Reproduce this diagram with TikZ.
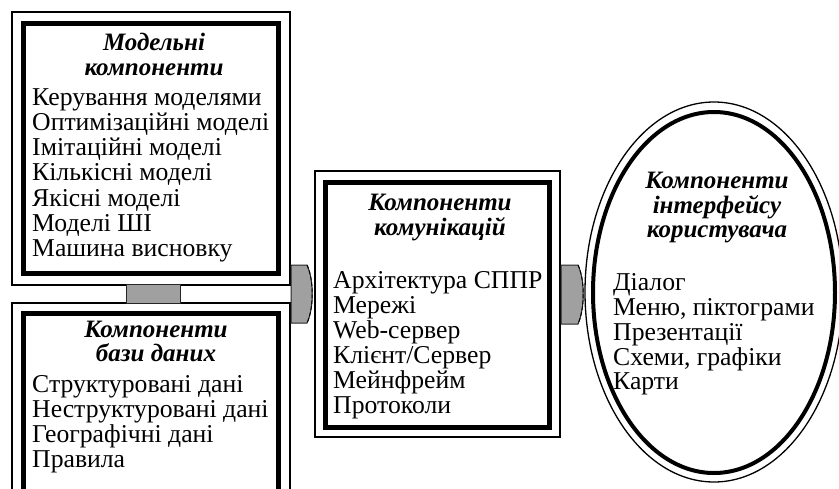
\documentclass[tikz,border=0pt]{standalone}
\usepackage{fontspec}
\setmainfont{Liberation Serif}
\usetikzlibrary{shapes.geometric}
\definecolor{linkgray}{RGB}{160,160,160}
\begin{document}
\begin{tikzpicture}[x=1pt,y=-1pt,
  outerbox/.style={draw, line width=1.3pt, inner sep=0pt, outer sep=0pt},
  innerbox/.style={draw, line width=5pt, inner sep=0pt, outer sep=0pt},
  bodytxt/.style={anchor=base west, inner sep=0pt, font=\fontsize{25.7}{25.7}\selectfont},
  titletxt/.style={anchor=base, inner sep=0pt, font=\fontsize{25}{25}\selectfont\bfseries\itshape},
  link/.style={fill=linkgray, draw=black!85, line width=1pt},
  linkedge/.style={draw=black, line width=1pt, dash pattern=on 4pt off 2pt}]
\useasboundingbox (0,0) rectangle (839,488);
\clip (0,0) rectangle (839,488);
% upper box: model components
\node[outerbox, minimum width=278pt, minimum height=273pt] (mo) at (151,148.5) {};
\node[innerbox, minimum width=255pt, minimum height=250pt] (mi) at (150.5,148) {};
% lower box: database components
\node[outerbox, minimum width=278pt, minimum height=220pt] (do) at (151,413) {};
\node[innerbox, minimum width=255pt, minimum height=190pt] (di) at (150.5,408) {};
% middle box: communication components
\node[outerbox, minimum width=245pt, minimum height=266pt] (co) at (437.5,304) {};
\node[innerbox, minimum width=224pt, minimum height=245pt] (ci) at (437,304.5) {};
% ellipse: user interface components
\node[draw, ellipse, line width=1.3pt, inner sep=0pt, minimum width=258pt, minimum height=380pt] (eo) at (714,292) {};
\node[draw, ellipse, line width=4pt, inner sep=0pt, minimum width=242pt, minimum height=361pt] (ei) at (714,292.5) {};
% link between upper and lower boxes
\path[link] (126,284) rectangle (180,303);
% link: left column -> middle box
\path[link] (291,265) -- (307,265) .. controls (314,280) and (314,308) .. (307,323) -- (291,323) -- cycle;
\path[linkedge] (307,265) .. controls (314,280) and (314,308) .. (307,323);
% link: middle box -> ellipse
\path[link] (561,265) -- (578,265) .. controls (585,280) and (585,308) .. (578,324) -- (561,324) -- cycle;
\path[linkedge] (578,265) .. controls (585,280) and (585,308) .. (578,324);
% texts upper
\node[titletxt] (t1a) at (154,50) {Модельні};
\node[titletxt] (t1b) at (154,75) {компоненти};
\node[bodytxt] (m1) at (32,105) {Керування моделями};
\node[bodytxt] (m2) at (32,130.3) {Оптимізаційні моделі};
\node[bodytxt] (m3) at (32,155.6) {Імітаційні моделі};
\node[bodytxt] (m4) at (32,180.9) {Кількісні моделі};
\node[bodytxt] (m5) at (32,206.2) {Якісні моделі};
\node[bodytxt] (m6) at (32,231.5) {Моделі ШІ};
\node[bodytxt] (m7) at (32,256.8) {Машина висновку};
% texts lower
\node[titletxt] (t2a) at (156,337) {Компоненти};
\node[titletxt] (t2b) at (156,361) {бази даних};
\node[bodytxt] (d1) at (32,392) {Структуровані дані};
\node[bodytxt] (d2) at (32,417) {Неструктуровані дані};
\node[bodytxt] (d3) at (32,442) {Географічні дані};
\node[bodytxt] (d4) at (32,467) {Правила};
% texts middle
\node[titletxt] (t3a) at (440,210) {Компоненти};
\node[titletxt] (t3b) at (440,235) {комунікацій};
\node[bodytxt] (c1) at (333,288) {Архітектура СППР};
\node[bodytxt] (c2) at (333,313) {Мережі};
\node[bodytxt] (c3) at (333,338) {Web-сервер};
\node[bodytxt] (c4) at (333,363.5) {Клієнт/Сервер};
\node[bodytxt] (c5) at (333,388.5) {Мейнфрейм};
\node[bodytxt] (c6) at (333,413) {Протоколи};
% texts ellipse
\node[titletxt] (t4a) at (717,188) {Компоненти};
\node[titletxt] (t4b) at (717,213) {інтерфейсу};
\node[titletxt] (t4c) at (717,237) {користувача};
\node[bodytxt] (u1) at (613,290) {Діалог};
\node[bodytxt] (u2) at (613,315) {Меню, піктограми};
\node[bodytxt] (u3) at (613,340) {Презентації};
\node[bodytxt] (u4) at (613,365) {Схеми, графіки};
\node[bodytxt] (u5) at (613,389) {Карти};
\end{tikzpicture}
\end{document}
